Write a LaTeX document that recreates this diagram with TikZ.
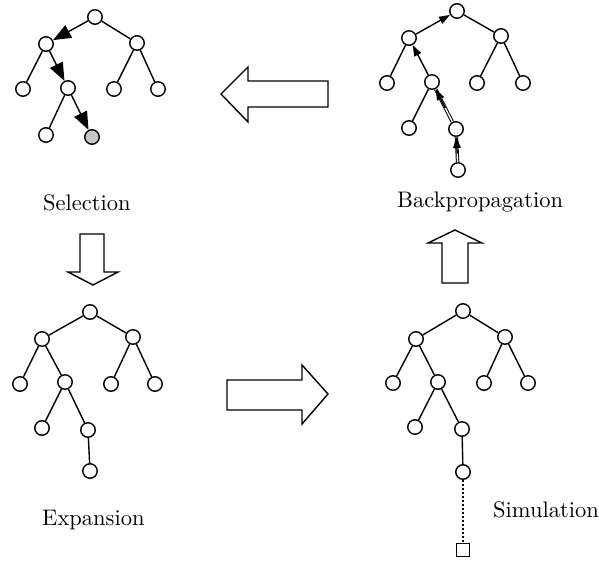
\documentclass[tikz,border=0pt]{standalone}
\usepackage{fontspec}
\newfontfamily\labfont{lmroman10-regular}[Extension=.otf]
\usetikzlibrary{arrows.meta,calc}
\begin{document}
\begin{tikzpicture}[x=1pt,y=-1pt,
  tn/.style={circle,draw,line width=1.4pt,minimum size=14.5pt,inner sep=0pt,fill=white},
  sel/.style={circle,draw,line width=1.4pt,minimum size=14.5pt,inner sep=0pt,fill=black!22},
  sq/.style={rectangle,draw,line width=1.4pt,minimum size=13pt,inner sep=0pt},
  edge/.style={line width=1.4pt},
  bigarr/.style={-{Triangle[length=18pt,width=14pt]},line width=1.4pt},
  backarr/.style={-{Triangle[length=11pt,width=7.5pt]},line width=1.4pt},
  dbl/.style={double,double distance=1.4pt,line width=1pt},
  block/.style={draw,line width=1.4pt,fill=white,line join=miter},
  lab/.style={font=\labfont\fontsize{22.5}{27}\selectfont,anchor=base west,inner sep=0pt}
]
\useasboundingbox (0,0) rectangle (599,560);

% ---------- Selection tree ----------
\node[tn] (s0) at (95,17) {};
\node[tn] (s1) at (46,44) {};
\node[tn] (s2) at (137,43) {};
\node[tn] (s3) at (23,89) {};
\node[tn] (s4) at (68,88) {};
\node[tn] (s5) at (114,89) {};
\node[tn] (s6) at (158,89) {};
\node[tn] (s7) at (46,135) {};
\node[sel] (s8) at (92,137) {};
\draw[bigarr] (s0) -- (s1);
\draw[edge] (s0) -- (s2);
\draw[edge] (s1) -- (s3);
\draw[bigarr] (s1) -- (s4);
\draw[edge] (s2) -- (s5);
\draw[edge] (s2) -- (s6);
\draw[edge] (s4) -- (s7);
\draw[bigarr] (s4) -- (s8);
\node[lab] (tsel) at (43,210) {Selection};

% ---------- Backpropagation tree ----------
\node[tn] (b0) at (457,11) {};
\node[tn] (b1) at (409,38) {};
\node[tn] (b2) at (501,36) {};
\node[tn] (b3) at (387,83) {};
\node[tn] (b4) at (432,82) {};
\node[tn] (b5) at (477,83) {};
\node[tn] (b6) at (523,83) {};
\node[tn] (b7) at (409,128) {};
\node[tn] (b8) at (456,129) {};
\node[tn] (b9) at (458,170) {};
\draw[backarr] (b1) -- (b0);
\draw[edge] (b0) -- (b2);
\draw[edge] (b1) -- (b3);
\draw[backarr] (b4) -- (b1);
\draw[edge] (b2) -- (b5);
\draw[edge] (b2) -- (b6);
\draw[edge] (b4) -- (b7);
\draw[dbl] (b8) -- (b4);
\draw[backarr] ($(b8)!0.45!(b4)$) -- (b4);
\draw[dbl] (b9) -- (b8);
\draw[backarr] ($(b9)!0.4!(b8)$) -- (b8);
\node[lab] (tback) at (397,207) {Backpropagation};

% ---------- Expansion tree ----------
\node[tn] (e0) at (90,312) {};
\node[tn] (e1) at (42,339) {};
\node[tn] (e2) at (133,337) {};
\node[tn] (e3) at (20,384) {};
\node[tn] (e4) at (65,382) {};
\node[tn] (e5) at (111,384) {};
\node[tn] (e6) at (155,384) {};
\node[tn] (e7) at (42,428) {};
\node[tn] (e8) at (88,430) {};
\node[tn] (e9) at (90,471) {};
\draw[edge] (e0) -- (e1);
\draw[edge] (e0) -- (e2);
\draw[edge] (e1) -- (e3);
\draw[edge] (e1) -- (e4);
\draw[edge] (e2) -- (e5);
\draw[edge] (e2) -- (e6);
\draw[edge] (e4) -- (e7);
\draw[edge] (e4) -- (e8);
\draw[edge] (e8) -- (e9);
\node[lab] (texp) at (42,525) {Expansion};

% ---------- Simulation tree ----------
\node[tn] (m0) at (463,311) {};
\node[tn] (m1) at (416,339) {};
\node[tn] (m2) at (505,337) {};
\node[tn] (m3) at (393,383) {};
\node[tn] (m4) at (438,382) {};
\node[tn] (m5) at (484,383) {};
\node[tn] (m6) at (528,383) {};
\node[tn] (m7) at (415,427) {};
\node[tn] (m8) at (462,429) {};
\node[tn] (m9) at (463,472) {};
\node[sq] (msq) at (463,550) {};
\draw[edge] (m0) -- (m1);
\draw[edge] (m0) -- (m2);
\draw[edge] (m1) -- (m3);
\draw[edge] (m1) -- (m4);
\draw[edge] (m2) -- (m5);
\draw[edge] (m2) -- (m6);
\draw[edge] (m4) -- (m7);
\draw[edge] (m4) -- (m8);
\draw[edge] (m8) -- (m9);
\draw[line width=1.2pt,dash pattern=on 2.5pt off 1.5pt] (m9) -- (msq);
\node[lab] (tsim) at (493,517) {Simulation};

% ---------- Block arrows ----------
\draw[block] (221,94) -- (248,67) -- (248,81) -- (328,81) -- (328,107) -- (248,107) -- (248,122) -- cycle;
\draw[block] (328,394) -- (302,365) -- (302,380) -- (227,380) -- (227,410) -- (302,410) -- (302,424) -- cycle;
\draw[block] (93,285) -- (68,272) -- (80,272) -- (80,234) -- (104,234) -- (104,272) -- (118,272) -- cycle;
\draw[block] (455,230) -- (428,243) -- (442,243) -- (442,283) -- (468,283) -- (468,243) -- (482,243) -- cycle;
\end{tikzpicture}
\end{document}
